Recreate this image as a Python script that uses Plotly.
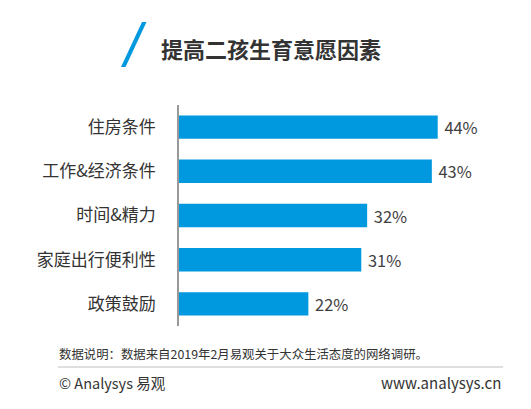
import plotly.graph_objects as go

# chart data
categories = ['住房条件', '工作&经济条件', '时间&精力', '家庭出行便利性', '政策鼓励']
values = [44, 43, 32, 31, 22]
labels = [f' {v}%' for v in values]

title = '提高二孩生育意愿因素'
note = '数据说明：数据来自2019年2月易观关于大众生活态度的网络调研。'
copyright_txt = '© Analysys 易观'
site = 'www.analysys.cn'

W, H = 531, 409
OFF = 8  # page body margin of the browser
# plot area in pixels (as seen on screen)
L, R, T, B = 179, 473, 105, 326
FONT = 'Noto Sans CJK SC, Microsoft YaHei, sans-serif'
BLUE = '#0098df'


def px(x, y):
    # screen pixel position -> paper coords
    return (x - L) / (R - L), (B - y) / (B - T)


fig = go.Figure(go.Bar(
    x=values, y=categories, orientation='h',
    marker=dict(color=BLUE, line=dict(width=0)),
    text=labels, textposition='outside', cliponaxis=False,
    textfont=dict(size=17.5, color='#404040', family=FONT),
))

# blue slash next to title
pts = [px(142, 22), px(146.5, 22), px(125.5, 67), px(121, 67)]
path = 'M ' + ' L '.join(f'{a},{b}' for a, b in pts) + ' Z'
shapes = [
    dict(type='path', xref='paper', yref='paper', path=path,
         fillcolor=BLUE, line=dict(width=0)),
]
# footer separator line
x0, y0 = px(58, 367)
x1, _ = px(503, 367)
shapes.append(dict(type='line', xref='paper', yref='paper', x0=x0, x1=x1, y0=y0, y1=y0,
                   line=dict(color='#bfbfbf', width=1)))

annotations = []
tx, ty = px(159, 48)
annotations.append(dict(text=f'<b>{title}</b>', x=tx, y=ty, xref='paper', yref='paper',
                        xanchor='left', yanchor='middle', showarrow=False,
                        font=dict(size=22, color='#333333', family=FONT)))
nx, ny = px(57, 354)
annotations.append(dict(text=note, x=nx, y=ny, xref='paper', yref='paper',
                        xanchor='left', yanchor='middle', showarrow=False,
                        font=dict(size=12.4, color='#333333', family=FONT)))
cx, cy = px(57, 382)
annotations.append(dict(text=copyright_txt, x=cx, y=cy, xref='paper', yref='paper',
                        xanchor='left', yanchor='middle', showarrow=False,
                        font=dict(size=14.5, color='#333333', family=FONT)))
sx, sy = px(503, 382)
annotations.append(dict(text=site, x=sx, y=sy, xref='paper', yref='paper',
                        xanchor='right', yanchor='middle', showarrow=False,
                        font=dict(size=15, color='#333333', family=FONT)))

fig.update_layout(
    width=W, height=H,
    margin=dict(l=L - OFF, r=W - R + OFF, t=T - OFF, b=H - B + OFF, pad=0),
    paper_bgcolor='white', plot_bgcolor='white',
    showlegend=False, bargap=0.47,
    font=dict(family=FONT, color='#333333'),
    shapes=shapes, annotations=annotations,
)
fig.update_xaxes(range=[0, 50], visible=False, showgrid=False, zeroline=False)
fig.update_yaxes(autorange=False, range=[4.5, -0.5], showgrid=False, zeroline=False,
                 showline=True, linecolor='#999999', linewidth=1.5,
                 ticks='', ticklabelstandoff=18,
                 tickfont=dict(size=17, color='#333333', family=FONT))

fig.write_html('out.html')
